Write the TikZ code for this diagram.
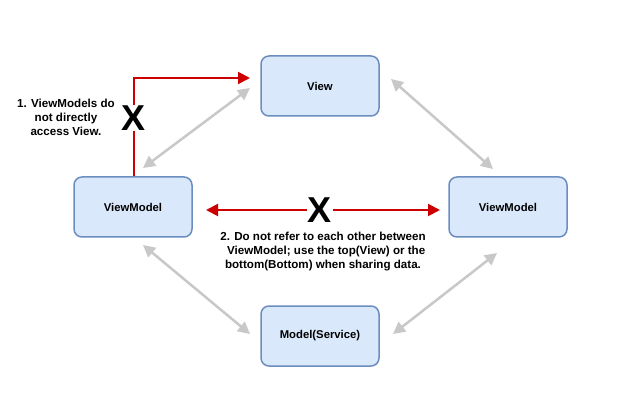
\documentclass[tikz,border=0pt]{standalone}
\usepackage{fontspec}
\setmainfont{Liberation Sans}
\usetikzlibrary{arrows.meta}
\definecolor{boxfill}{HTML}{DAE8FC}
\definecolor{boxdraw}{HTML}{6C8EBF}
\definecolor{redline}{HTML}{CC0000}
\definecolor{grayline}{HTML}{C8C8C8}
\begin{document}
\begin{tikzpicture}[x=1pt,y=-1pt,
  box/.style={draw=boxdraw,fill=boxfill,line width=1.5pt,rounded corners=8pt,
    minimum width=118pt,minimum height=60pt,font=\bfseries\fontsize{11.3}{13}\selectfont},
  grayarrow/.style={draw=grayline,line width=2.5pt,{Triangle[length=12pt,width=12pt]}-{Triangle[length=12pt,width=12pt]}},
  redarrow/.style={draw=redline,line width=2pt},
  bigx/.style={fill=white,inner sep=1pt,font=\bfseries\fontsize{36}{36}\selectfont},
  note/.style={align=center,font=\bfseries\fontsize{11.6}{14}\selectfont}]
\fill[white] (0,0) rectangle (640,414);
\useasboundingbox (0,0) rectangle (640,414);

\node[box] (view) at (320,86) {View};
\node[box] (vmL) at (133,207) {ViewModel};
\node[box] (vmR) at (508,207) {ViewModel};
\node[box] (model) at (320,336) {Model(Service)};

% gray connectors
\coordinate (a1) at (143,168); \coordinate (a2) at (250,88);
\coordinate (b1) at (391,79);  \coordinate (b2) at (493,169);
\coordinate (c1) at (143,245); \coordinate (c2) at (250,334);
\coordinate (d1) at (497,253); \coordinate (d2) at (393,334);
\draw[grayarrow] (a1) -- (a2);
\draw[grayarrow] (b1) -- (b2);
\draw[grayarrow] (c1) -- (c2);
\draw[grayarrow] (d1) -- (d2);

% red L arrow
\coordinate (rtip) at (250,78);
\draw[redarrow,-{Triangle[length=12pt,width=12pt]}] (vmL.north -| 134,0) |- (rtip);
\node[bigx] (x1) at (134,118) {X};

% red horizontal arrow
\coordinate (hl) at (206,210); \coordinate (hr) at (440,210);
\draw[redarrow,{Triangle[length=12pt,width=12pt]}-{Triangle[length=12pt,width=12pt]}] (hl) -- (hr);
\node[bigx] (x2) at (320,210) {X};

\node[note] (n1) at (66,117) {1. ViewModels do\\not directly\\access View.};
\node[note] (n2) at (323,252) {2. Do not refer to each other between\\\ \ ViewModel; use the top(View) or the\\bottom(Bottom) when sharing data.};
\end{tikzpicture}
\end{document}
